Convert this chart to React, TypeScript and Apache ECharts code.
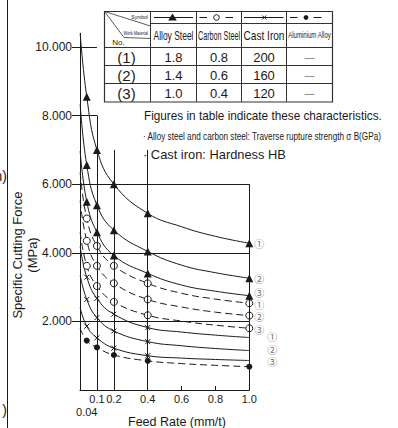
import React, { useEffect, useRef } from "react";
import * as echarts from "echarts";

const FONT = '"Liberation Sans", Arial, Helvetica, sans-serif';
const CJK = '"Noto Sans CJK JP", "DejaVu Sans", sans-serif';
const INK = "#1a1a1a";

// ---- data ----
const feedRates = [0.001, 0.04, 0.1, 0.2, 0.4, 0.6, 0.8, 1.0];
const markerFeeds = [0.04, 0.1, 0.2, 0.4, 1.0];
const xLabelValues = [0, 0.04, 0.1, 0.2, 0.4, 0.6, 0.8, 1.0];
const xMinorTicks = [0.6, 0.8];
const yLabelValues = [2000, 4000, 6000, 8000, 10000];

const alloySteel1 = [10400, 8550, 7000, 6000, 5150, 4760, 4480, 4280];
const alloySteel2 = [8330, 6560, 5390, 4660, 4040, 3640, 3420, 3260];
const alloySteel3 = [6970, 5490, 4600, 3920, 3400, 3060, 2880, 2750];
const carbonSteel1 = [6350, 5000, 4200, 3620, 3110, 2820, 2650, 2530];
const carbonSteel2 = [5520, 4350, 3620, 3110, 2640, 2420, 2270, 2170];
const carbonSteel3 = [4600, 3620, 3030, 2570, 2180, 2010, 1890, 1800];
const castIron1 = [4180, 3290, 2670, 2210, 1820, 1690, 1600, 1530];
const castIron2 = [3350, 2640, 2110, 1720, 1410, 1290, 1210, 1150];
const castIron3 = [2400, 1860, 1520, 1220, 1000, 930, 890, 860];
const aluminiumAlloy = [1800, 1440, 1240, 1020, 850, 770, 720, 680];

const curveTags = ["①", "②", "③"];

const materials = ["Alloy Steel", "Carbon Steel", "Cast Iron", "Aluminium Alloy"];
const tableNos = ["(1)", "(2)", "(3)"];
const alloyStrength = ["1.8", "1.4", "1.0"];
const carbonStrength = ["0.8", "0.6", "0.4"];
const castHardness = ["200", "160", "120"];
const aluminiumValues = ["—", "—", "—"];

const noteLines = [
  "Figures in table indicate these characteristics.",
  "· Alloy steel and carbon steel: Traverse rupture strength σ B(GPa)",
  "· Cast iron: Hardness HB",
];

// ---- helpers ----
let measureCtx: CanvasRenderingContext2D | null = null;
function measure(text: string, size: number, family = FONT) {
  if (!measureCtx) measureCtx = document.createElement("canvas").getContext("2d");
  if (!measureCtx) return text.length * size * 0.5;
  measureCtx.font = `${size}px ${family}`;
  return measureCtx.measureText(text).width;
}
function fit(text: string, size: number, width: number) {
  return width / measure(text, size);
}
function gLine(x1: number, y1: number, x2: number, y2: number, stroke = INK, lineWidth = 1) {
  return { type: "line", silent: true, shape: { x1, y1, x2, y2 }, style: { stroke, lineWidth } };
}
function gText(
  text: string,
  x: number,
  y: number,
  size: number,
  o: { align?: string; scaleX?: number; fill?: string; family?: string; rotation?: number } = {}
) {
  const align = o.align || "center";
  return {
    type: "text",
    silent: true,
    x,
    y,
    scaleX: o.scaleX ?? 1,
    rotation: o.rotation ?? 0,
    style: {
      text,
      fontSize: size,
      fontFamily: o.family || FONT,
      fill: o.fill || INK,
      textAlign: align,
      align,
      textVerticalAlign: "middle",
      verticalAlign: "middle",
    },
  };
}

function buildOption() {
  const kinds: Record<string, any> = {
    alloy: { dash: "solid", symbol: "triangle", size: 8, item: { color: INK, borderWidth: 0 }, endMarker: true, labelDist: 5 },
    carbon: { dash: [7, 4], symbol: "circle", size: 7, item: { color: "#fff", borderColor: INK, borderWidth: 1 }, endMarker: true, labelDist: 5 },
    cast: { dash: "solid", symbol: "path://M0,0L10,10M10,0L0,10", size: 5, item: { color: "none", borderColor: INK, borderWidth: 1 }, endMarker: false, labelDist: 18 },
    alu: { dash: [7, 4], symbol: "circle", size: 6, item: { color: INK, borderWidth: 0 }, endMarker: true, labelDist: 5 },
  };
  const curves: { name: string; kind: string; values: number[]; tag?: string; dy?: number }[] = [
    { name: "Alloy Steel (1)", kind: "alloy", values: alloySteel1, tag: curveTags[0] },
    { name: "Alloy Steel (2)", kind: "alloy", values: alloySteel2, tag: curveTags[1] },
    { name: "Alloy Steel (3)", kind: "alloy", values: alloySteel3, tag: curveTags[2], dy: -3 },
    { name: "Carbon Steel (1)", kind: "carbon", values: carbonSteel1, tag: curveTags[0], dy: 1 },
    { name: "Carbon Steel (2)", kind: "carbon", values: carbonSteel2, tag: curveTags[1], dy: 1 },
    { name: "Carbon Steel (3)", kind: "carbon", values: carbonSteel3, tag: curveTags[2], dy: 1 },
    { name: "Cast Iron (1)", kind: "cast", values: castIron1, tag: curveTags[0], dy: -1 },
    { name: "Cast Iron (2)", kind: "cast", values: castIron2, tag: curveTags[1], dy: -1.5 },
    { name: "Cast Iron (3)", kind: "cast", values: castIron3, tag: curveTags[2], dy: 1.2 },
    { name: "Aluminium Alloy", kind: "alu", values: aluminiumAlloy },
  ];

  const series: any[] = curves.map((c) => {
    const k = kinds[c.kind];
    return {
      name: c.name,
      type: "line",
      data: feedRates.map((f, i) => [f, c.values[i]]),
      smooth: 0.45,
      showSymbol: true,
      showAllSymbol: true,
      symbol: (v: number[]) =>
        markerFeeds.includes(v[0]) && (k.endMarker || v[0] !== 1) ? k.symbol : "none",
      symbolSize: k.size,
      itemStyle: k.item,
      lineStyle: { color: INK, width: 1, type: k.dash },
      endLabel: c.tag
        ? {
            show: true,
            formatter: c.tag,
            distance: k.labelDist,
            offset: [0, c.dy || 0],
            color: "#6a6a6a",
            fontSize: 10,
            lineHeight: 10,
            fontFamily: CJK,
          }
        : { show: false },
      silent: true,
      z: 3,
    };
  });

  // frame lines drawn through the axes' scales
  const seg = (a: number[], b: number[]) => [{ coord: a }, { coord: b }];
  series.push({
    type: "line",
    data: [],
    silent: true,
    z: 1,
    markLine: {
      silent: true,
      symbol: ["none", "none"],
      label: { show: false },
      lineStyle: { color: INK, width: 1, type: "solid" },
      data: [
        seg([0, 10000], [0.1, 10000]),
        seg([0, 8000], [0.1, 8000]),
        seg([0, 6000], [1, 6000]),
        seg([0, 4000], [1, 4000]),
        seg([0, 2000], [1, 2000]),
        seg([0.04, 8000], [0.04, -230]),
        seg([0.1, 8000], [0.1, 0]),
        seg([0.2, 7000], [0.2, 0]),
        seg([0.4, 7000], [0.4, 0]),
        seg([1, 6000], [1, 0]),
      ],
    },
  });

  // ---- table & notes (graphic) ----
  const L = 104.5, R = 332.5, T = 11.5, B = 102;
  const colX = [L, 150.5, 196.5, 241.5, 286.5, R];
  const rowY = [T, 23.5, 47.5, 65.5, 83.5, B];
  const colC = colX.slice(0, 5).map((x, i) => (x + colX[i + 1]) / 2);
  const rowC = rowY.slice(0, 5).map((y, i) => (y + rowY[i + 1]) / 2);
  const els: any[] = [];
  els.push({ type: "rect", silent: true, shape: { x: L, y: T, width: R - L, height: B - T }, style: { fill: "#fff", stroke: "#333", lineWidth: 1.2 } });
  for (let i = 1; i < 5; i++) els.push(gLine(colX[i], T, colX[i], B, "#333"));
  els.push(gLine(colX[1], rowY[1], R, rowY[1], "#333"));
  for (let j = 2; j < 5; j++) els.push(gLine(L, rowY[j], R, rowY[j], "#333"));
  // header diagonals
  els.push(gLine(L, T, colX[1], 26, "#333", 0.8));
  els.push({ type: "polyline", silent: true, shape: { points: [[L, T], [124, 37.5], [colX[1], 38.5]] }, style: { stroke: "#333", lineWidth: 0.8, fill: "none" } });
  els.push(gText("Symbol", 148, 17, 5, { align: "right" }));
  els.push(gText("Work Material", 148, 33, 5, { align: "right", scaleX: 0.8 }));
  els.push(gText("No.", 118.5, 42, 8));
  // symbol row
  const sy = rowC[0];
  els.push(gLine(154, sy, 193, sy));
  els.push({ type: "polygon", silent: true, shape: { points: [[172.5, sy - 4], [176.8, sy + 3], [168.2, sy + 3]] }, style: { fill: INK } });
  els.push(gLine(199.5, sy, 207, sy));
  els.push({ type: "circle", silent: true, shape: { cx: 216.5, cy: sy, r: 2.8 }, style: { fill: "#fff", stroke: INK, lineWidth: 1 } });
  els.push(gLine(225.5, sy, 233, sy));
  els.push(gLine(244, sy, 283.5, sy));
  els.push(gLine(262.3, sy - 2, 266.3, sy + 2));
  els.push(gLine(262.3, sy + 2, 266.3, sy - 2));
  els.push(gLine(290, sy, 297.5, sy));
  els.push({ type: "circle", silent: true, shape: { cx: 306, cy: sy, r: 2.4 }, style: { fill: INK } });
  els.push(gLine(313.5, sy, 321.5, sy));
  // material names (condensed)
  const nameWidths = [40, 42, 41, 43];
  const nameSizes = [12, 12, 12, 9];
  materials.forEach((m, i) => {
    els.push(gText(m, colC[i + 1], rowC[1], nameSizes[i], { scaleX: fit(m, nameSizes[i], nameWidths[i]) }));
  });
  // data rows
  for (let r = 0; r < 3; r++) {
    const y = rowC[2 + r] + 0.5;
    els.push(gText(tableNos[r], 126.5, y, 15));
    els.push(gText(alloyStrength[r], colC[1], y, 13));
    els.push(gText(carbonStrength[r], colC[2], y, 13));
    els.push(gText(castHardness[r], colC[3], y, 13));
    els.push(gText(aluminiumValues[r], colC[4], y, 10, { fill: "#777" }));
  }
  // notes
  els.push(gText(noteLines[0], 144, 115.5, 12, { align: "left", scaleX: fit(noteLines[0], 12, 238) }));
  els.push(gText(noteLines[1], 143, 136.5, 10, { align: "left", scaleX: fit(noteLines[1], 10, 239) }));
  els.push(gText(noteLines[2], 143, 154.5, 13, { align: "left", scaleX: fit(noteLines[2], 13, 143) }));
  // axis names
  els.push(gText("Specific Cutting Force", 17, 255, 13, { rotation: Math.PI / 2 }));
  els.push(gText("(MPa)", 32, 255, 13, { rotation: Math.PI / 2 }));
  els.push(gText("Feed Rate (mm/t)", 177, 421.5, 12.5));
  // left edge remnants
  els.push(gLine(7.5, 0, 7.5, 428, INK, 1));
  els.push(gText("n)", 7, 176, 14, { align: "right" }));
  els.push(gText(")", 7, 410, 14, { align: "right" }));

  return {
    animation: false,
    backgroundColor: "#fff",
    grid: { left: 80, top: 33.3, width: 169.3, height: 356.7 },
    xAxis: {
      type: "value",
      min: 0,
      max: 1,
      axisLine: { show: true, lineStyle: { color: INK, width: 1 } },
      axisTick: { show: true, inside: true, length: 4, customValues: xMinorTicks, lineStyle: { color: INK } },
      axisLabel: {
        customValues: xLabelValues,
        formatter: (v: number) => (v === 0 ? "0" : v === 0.04 ? "\n0.04" : v.toFixed(1)),
        margin: 2,
        lineHeight: 13,
        fontSize: 11,
        color: INK,
        fontFamily: FONT,
      },
      splitLine: { show: false },
    },
    yAxis: {
      type: "value",
      min: 0,
      max: 10400,
      axisLine: { show: true, lineStyle: { color: INK, width: 1 } },
      axisTick: { show: true, length: 8, customValues: yLabelValues, lineStyle: { color: INK } },
      axisLabel: {
        customValues: yLabelValues,
        formatter: (v: number) => (v / 1000).toFixed(3),
        margin: 8,
        fontSize: 12,
        color: INK,
        fontFamily: FONT,
      },
      splitLine: { show: false },
    },
    graphic: { elements: els },
    series,
  };
}

export default function App() {
  const ref = useRef<HTMLDivElement>(null);
  useEffect(() => {
    if (!ref.current) return;
    const chart = echarts.init(ref.current, null, { renderer: "svg" });
    chart.setOption(buildOption() as any);
    return () => chart.dispose();
  }, []);
  return (
    <div
      ref={ref}
      style={{ position: "fixed", left: 0, top: 0, width: 398, height: 428, background: "#fff" }}
    />
  );
}
